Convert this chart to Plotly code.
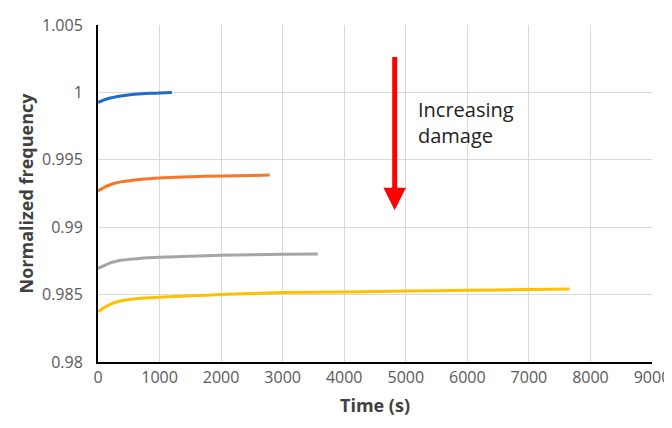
import plotly.graph_objects as go

# ---- data ----
t_blue = [0, 100, 200, 300, 400, 520, 650, 850, 1000, 1200]
v_blue = [0.99925, 0.99945, 0.99958, 0.99968, 0.99975, 0.99982, 0.99988, 0.99993, 0.99996, 0.99999]

t_orange = [0, 100, 200, 300, 400, 520, 700, 1000, 1500, 2000, 2500, 2790]
v_orange = [0.99269, 0.99295, 0.99315, 0.99330, 0.99338, 0.99345, 0.99355, 0.99365, 0.99375, 0.99380, 0.99384, 0.99388]

t_gray = [0, 100, 200, 300, 400, 520, 700, 1000, 1500, 2000, 2500, 3000, 3570]
v_gray = [0.98694, 0.98715, 0.98735, 0.98748, 0.98756, 0.98762, 0.98770, 0.98777, 0.98785, 0.98791, 0.98796, 0.98800, 0.98802]

t_yellow = [0, 100, 200, 300, 400, 520, 700, 1000, 1500, 2000, 2500, 3000, 4000, 5000, 6000, 7000, 7660]
v_yellow = [0.98372, 0.98405, 0.98428, 0.98445, 0.98456, 0.98464, 0.98472, 0.98481, 0.98491, 0.98500, 0.98508, 0.98515, 0.98520, 0.98526, 0.98532, 0.98537, 0.98541]

x_ticks = [0, 1000, 2000, 3000, 4000, 5000, 6000, 7000, 8000, 9000]
y_ticks = [0.98, 0.985, 0.99, 0.995, 1.0, 1.005]
y_labels = ["0.98", "0.985", "0.99", "0.995", "1", "1.005"]

series = [
    (t_blue, v_blue, "#1F6BC9"),
    (t_orange, v_orange, "#F7772A"),
    (t_gray, v_gray, "#A5A5A5"),
    (t_yellow, v_yellow, "#FFC000"),
]

# page body adds an 8px offset, so the figure is 664x420
W, H = 664, 420
L, R, T, B = 90, 20, 17, 66

fig = go.Figure()
for t, v, c in series:
    fig.add_trace(go.Scatter(x=t, y=v, mode="lines",
                             line=dict(color=c, width=3, shape="spline", smoothing=0.6),
                             showlegend=False, hoverinfo="skip"))

# arrow
fig.add_annotation(x=4820, y=0.99126, ax=4820, ay=1.00274, xref="x", yref="y",
                   axref="x", ayref="y", text="", showarrow=True,
                   arrowhead=2, arrowsize=0.9, arrowwidth=5, arrowcolor="#FF0000")
fig.add_annotation(x=5170, y=0.99774, xref="x", yref="y", xanchor="left", yanchor="middle",
                   text="Increasing<br>damage", showarrow=False, align="left",
                   font=dict(family="Open Sans", size=20, color="#222222"))

fig.update_layout(
    width=W, height=H,
    margin=dict(l=L, r=R, t=T, b=B, autoexpand=False),
    paper_bgcolor="white", plot_bgcolor="white",
    font=dict(family="Open Sans", color="#595959"),
)
fig.update_xaxes(range=[0, 9000], tickvals=x_ticks, ticktext=[str(v) for v in x_ticks],
                 showgrid=True, gridcolor="#D9D9D9", gridwidth=1,
                 showline=True, linecolor="#000000", linewidth=2,
                 ticks="", tickfont=dict(size=16, color="#595959"), automargin=False,
                 title=dict(text="<b>Time (s)</b>", font=dict(size=18, color="#404040"), standoff=12),
                 zeroline=False)
fig.update_yaxes(range=[0.98, 1.005], tickvals=y_ticks, ticktext=y_labels,
                 showgrid=True, gridcolor="#D9D9D9", gridwidth=1,
                 showline=True, linecolor="#000000", linewidth=2,
                 ticks="", tickfont=dict(size=16, color="#595959"), automargin=False,
                 ticklabelstandoff=10,
                 title=dict(text="<b>Normalized frequency</b>", font=dict(size=18, color="#404040"), standoff=4),
                 zeroline=False)

fig.write_html("out.html")
